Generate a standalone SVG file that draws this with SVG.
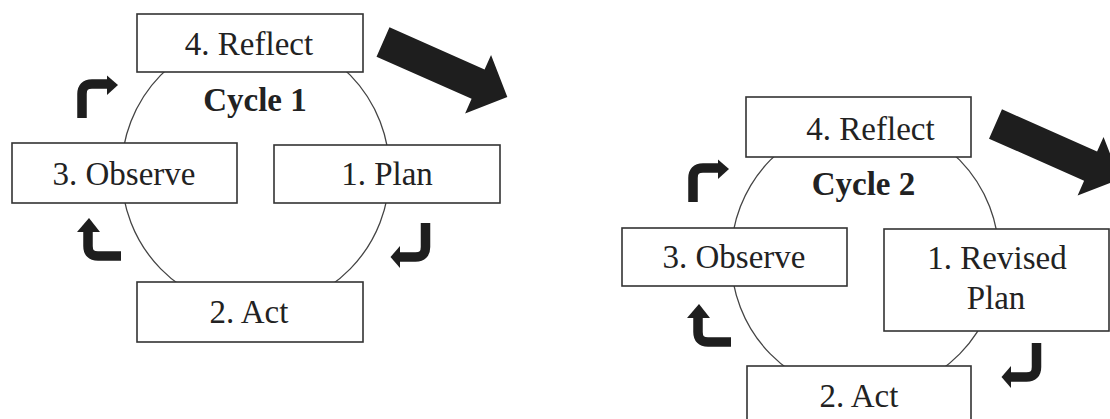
<svg xmlns="http://www.w3.org/2000/svg" width="1110" height="419" viewBox="0 0 1110 419">
  <style>
    .box { fill: #ffffff; stroke: #333333; stroke-width: 1.6; }
    .ring { fill: none; stroke: #444444; stroke-width: 1.3; }
    .lbl { font-family: "Liberation Serif", "Times New Roman", serif; font-size: 33px; fill: #222222; text-anchor: middle; }
    .ttl { font-family: "Liberation Serif", "Times New Roman", serif; font-size: 33px; font-weight: bold; fill: #222222; text-anchor: middle; }
    .shaft { fill: none; stroke: #1e1e1e; stroke-width: 9.5; stroke-linecap: butt; }
    .head { fill: #1e1e1e; }
    .big { fill: #1e1e1e; }
  </style>
  <defs>
    <g id="bentUR">
      <path class="shaft" d="M82,118 V94 Q82,84 92,84 H108"/>
      <polygon class="head" points="107,75.5 118,85 107,95"/>
    </g>
    <g id="bentUL">
      <path class="shaft" d="M88,231 V246 Q88,256 98,256 H121"/>
      <polygon class="head" points="77,232 89,218 100,232"/>
    </g>
    <g id="bentDL">
      <path class="shaft" d="M425.5,223 V247 Q425.5,257 415.5,257 H399"/>
      <polygon class="head" points="400,246 390.5,257 400,268"/>
    </g>
    <polygon id="bigArrow" class="big" points="0,-16 104,-16 104,-32 136,0 104,32 104,16 0,16"/>
  </defs>

  <g id="cycle1-ring">
    <ellipse class="ring" cx="255.5" cy="172" rx="134" ry="137"/>
  </g>
  <g id="cycle2-ring">
    <ellipse class="ring" cx="865" cy="257" rx="134" ry="137"/>
  </g>

  <g id="connectors">
    <use href="#bentUR"/>
    <use href="#bentUL"/>
    <use href="#bentDL"/>
    <use href="#bentUR" transform="translate(611,84)"/>
    <use href="#bentUL" transform="translate(610,86)"/>
    <use href="#bentDL" transform="translate(611,120)"/>
    <use href="#bigArrow" transform="translate(383,42) rotate(23.9)"/>
    <use href="#bigArrow" transform="translate(995.5,124) rotate(23.9)"/>
  </g>

  <g id="c1-reflect">
    <rect class="box" x="137" y="14" width="226" height="58"/>
    <text class="lbl" x="249" y="55">4. Reflect</text>
  </g>
  <g id="c1-title">
    <text class="ttl" x="255" y="111">Cycle 1</text>
  </g>
  <g id="c1-observe">
    <rect class="box" x="12" y="143" width="225" height="60"/>
    <text class="lbl" x="124" y="185">3. Observe</text>
  </g>
  <g id="c1-plan">
    <rect class="box" x="274" y="145" width="226" height="58"/>
    <text class="lbl" x="387" y="185">1. Plan</text>
  </g>
  <g id="c1-act">
    <rect class="box" x="137" y="282" width="226" height="60"/>
    <text class="lbl" x="249" y="323">2. Act</text>
  </g>

  <g id="c2-reflect">
    <rect class="box" x="746" y="97" width="225" height="60"/>
    <text class="lbl" x="870.5" y="140">4. Reflect</text>
  </g>
  <g id="c2-title">
    <text class="ttl" x="863.5" y="195">Cycle 2</text>
  </g>
  <g id="c2-observe">
    <rect class="box" x="622" y="228" width="225" height="58"/>
    <text class="lbl" x="734" y="268">3. Observe</text>
  </g>
  <g id="c2-plan">
    <rect class="box" x="884" y="229" width="225" height="102"/>
    <text class="lbl" x="997" y="269">1. Revised</text>
    <text class="lbl" x="996" y="309">Plan</text>
  </g>
  <g id="c2-act">
    <rect class="box" x="747" y="366" width="224" height="60"/>
    <text class="lbl" x="859" y="407">2. Act</text>
  </g>
</svg>
